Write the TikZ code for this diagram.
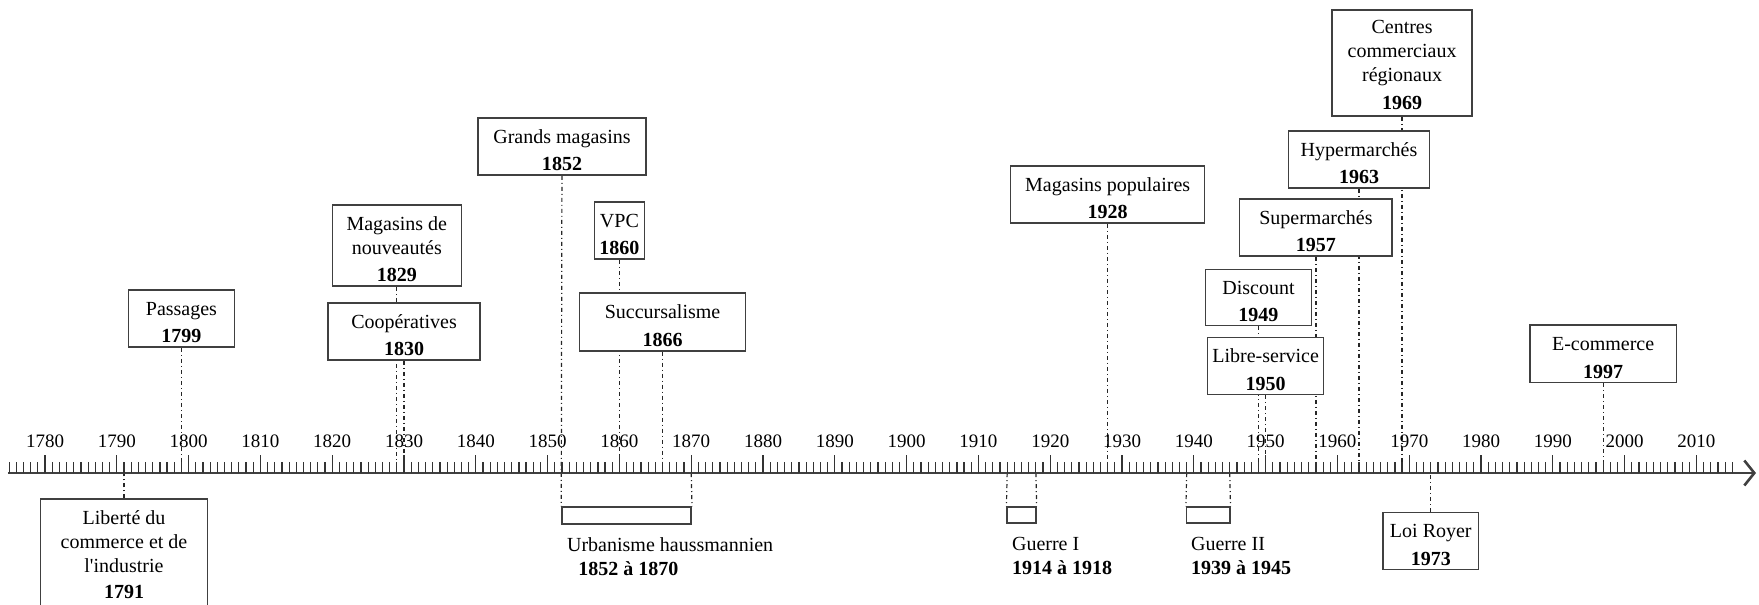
\documentclass[tikz,border=0pt]{standalone}
\usepackage{fontspec}
\setmainfont{Liberation Serif}
\usetikzlibrary{arrows.meta,fit,backgrounds}

\begin{document}
\begin{tikzpicture}[x=3.59pt, y=-0.5pt, shift={(-1773.73,0)},
  evt/.style={draw=black!75, line width=0.75pt, fill=white, align=center, inner sep=0pt, text height=24.2pt, text depth=0pt, font=\fontsize{10}{12}\selectfont},
  periode/.style={draw=black!75, line width=0.75pt, inner sep=0pt},
  legende/.style={anchor=base west, align=left, inner sep=0pt, font=\fontsize{10}{12}\selectfont},
  lien/.style={black!85, line width=0.6pt, dash pattern=on 2pt off 1.5pt on 0.5pt off 1.5pt},
  graduation/.style={black!80, line width=0.6pt},
  annee/.style={anchor=base, inner sep=0pt, font=\fontsize{9.5}{11}\selectfont}]
\useasboundingbox (1773.73,0) rectangle (2018.71,604);
\clip (1773.73,0) rectangle (2018.71,604);
\draw[black!75, line width=1.3pt, -{Straight Barb[length=5pt,width=12.5pt]}] (1774.84,473) -- (2018.29,473);
\foreach \a in {1775,...,2015}
  \draw[graduation] (\a,473) -- (\a,462);
\foreach \a in {1780,1790,...,2010} {
  \draw[graduation] (\a,473) -- (\a,455);
  \node[annee] (l\a) at (\a,447) {\a};
}
\foreach \a in {1791,1799,1829,1830,1852,1860,1866,1870,1914,1918,1928,1939,1945,1949,1950,1957,1963,1969,1973,1997}
  \coordinate (t\a) at (\a,473);

\node[evt, minimum width=83.5pt, minimum height=54pt, text height=45pt] (lib) at (1791,553) {Liberté du\\commerce et de\\l\textquotesingle industrie\\[1pt]\textbf{1791}};
\node[evt, minimum width=53pt, minimum height=28.5pt] (pass) at (1799,318.5) {Passages\\[1.75pt]\textbf{1799}};
\node[evt, minimum width=64.5pt, minimum height=40.5pt, text height=35.5pt] (nouv) at (1829,245.5) {Magasins de\\nouveautés\\[1.5pt]\textbf{1829}};
\node[evt, minimum width=76pt, minimum height=28.5pt] (coop) at (1830,331.5) {Coopératives\\[1.75pt]\textbf{1830}};
\node[evt, minimum width=84pt, minimum height=28.5pt] (gm) at (1852,146.5) {Grands magasins\\[1.75pt]\textbf{1852}};
\node[evt, minimum width=25pt, minimum height=28.5pt] (vpc) at (1860,230.5) {VPC\\[1.75pt]\textbf{1860}};
\node[evt, minimum width=83pt, minimum height=29pt] (succ) at (1866,321.8) {Succursalisme\\[1.75pt]\textbf{1866}};
\node[evt, minimum width=97pt, minimum height=28.5pt] (mpop) at (1928,194.5) {Magasins populaires\\[1.75pt]\textbf{1928}};
\node[evt, minimum width=53pt, minimum height=28.2pt] (disc) at (1949,297.5) {Discount\\[1.75pt]\textbf{1949}};
\node[evt, minimum width=58pt, minimum height=28.5pt] (libre) at (1950,365.8) {Libre-service\\[1.75pt]\textbf{1950}};
\node[evt, minimum width=76.3pt, minimum height=28.5pt] (super) at (1957,227.5) {Supermarchés\\[1.75pt]\textbf{1957}};
\node[evt, minimum width=70.3pt, minimum height=28.5pt] (hyper) at (1963,159.5) {Hypermarchés\\[1.75pt]\textbf{1963}};
\node[evt, minimum width=70pt, minimum height=53pt, text height=46pt] (ccr) at (1969,63) {Centres\\commerciaux\\régionaux\\[1.5pt]\textbf{1969}};
\node[evt, minimum width=47.8pt, minimum height=28.5pt] (roy) at (1973,540.8) {Loi Royer\\[1.75pt]\textbf{1973}};
\node[evt, minimum width=73.3pt, minimum height=28.8pt] (ecom) at (1997,353.8) {E-commerce\\[1.75pt]\textbf{1997}};

\node[periode, fit={(1852,507) (1870,524)}] (urb) {};
\node[periode, fit={(1914,507) (1918,523)}] (g1) {};
\node[periode, fit={(1939,507) (1945,523)}] (g2) {};
\node[legende] (urbt) at (1852.66,575) {Urbanisme haussmannien\\\hspace*{5.6pt}\textbf{1852 à 1870}};
\node[legende] (g1t) at (1914.63,574) {Guerre I\\\textbf{1914 à 1918}};
\node[legende] (g2t) at (1939.56,574) {Guerre II\\\textbf{1939 à 1945}};

\begin{scope}[on background layer]
\draw[lien] (lib) -- (t1791);
\draw[lien] (pass) -- (t1799);
\draw[lien] (nouv) -- (t1829);
\draw[lien] (coop) -- (t1830);
\draw[lien] (gm) -- (urb.north west);
\draw[lien] (vpc) -- (t1860);
\draw[lien] (succ) -- (t1866);
\draw[lien] (t1870) -- (urb.north east);
\draw[lien] (t1914) -- (g1.north west);
\draw[lien] (t1918) -- (g1.north east);
\draw[lien] (mpop) -- (t1928);
\draw[lien] (t1939) -- (g2.north west);
\draw[lien] (t1945) -- (g2.north east);
\draw[lien] (disc) -- (t1949);
\draw[lien] (libre) -- (t1950);
\draw[lien] (super) -- (t1957);
\draw[lien] (hyper) -- (t1963);
\draw[lien] (ccr) -- (t1969);
\draw[lien] (roy) -- (t1973);
\draw[lien] (ecom) -- (t1997);
\end{scope}
\end{tikzpicture}
\end{document}
